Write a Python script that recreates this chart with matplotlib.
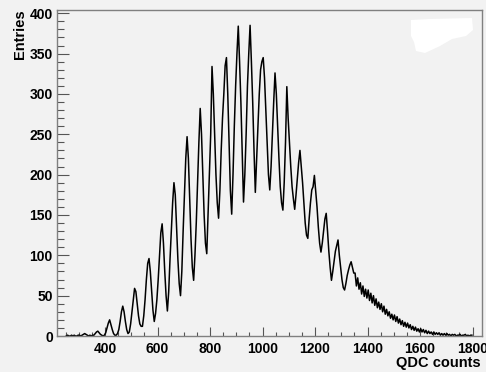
import numpy as np
import matplotlib.pyplot as plt
from matplotlib.patches import Polygon

# QDC spectrum, 5-count bins from 250 to 1800 (one row = 50 counts)
bin_start = 250
bin_width = 5
entries = [
    0, 1, 0, 0, 1, 0, 1, 0, 0, 1,            # 250
    1, 0, 1, 2, 3, 2, 1, 0, 1, 0,            # 300
    1, 1, 3, 5, 6, 4, 2, 1, 0, 1,            # 350
    4, 10, 16, 20, 14, 8, 3, 1, 1, 3,        # 400
    8, 18, 30, 37, 30, 18, 8, 3, 5, 15,      # 450
    30, 45, 59, 55, 40, 25, 15, 12, 12, 25,  # 500
    45, 70, 90, 96, 80, 55, 32, 18, 28, 45,  # 550
    70, 100, 128, 139, 115, 80, 50, 31, 55, 95,      # 600
    130, 165, 190, 175, 135, 95, 65, 50, 80, 130,    # 650
    175, 220, 247, 220, 170, 120, 85, 69, 100, 140,  # 700
    190, 240, 282, 250, 200, 150, 115, 102, 150, 200,  # 750
    250, 334, 300, 250, 200, 165, 146, 180, 230, 270,  # 800
    300, 335, 345, 300, 240, 180, 151, 200, 260, 310,  # 850
    350, 384, 340, 290, 230, 166, 200, 250, 310, 350,  # 900
    385, 340, 290, 230, 178, 220, 260, 300, 330, 340,  # 950
    345, 320, 280, 240, 200, 181, 210, 250, 290, 326,  # 1000
    300, 260, 220, 185, 165, 156, 190, 240, 309, 270,  # 1050
    240, 210, 185, 170, 157, 175, 195, 215, 230, 210,  # 1100
    190, 165, 140, 125, 121, 145, 165, 181, 185, 199,  # 1150
    180, 160, 135, 115, 104, 115, 130, 145, 152, 130,  # 1200
    105, 85, 69, 80, 92, 105, 112, 119, 100, 85,       # 1250
    70, 60, 57, 65, 75, 82, 88, 92, 85, 78,            # 1300
    78, 62, 72, 58, 66, 52, 62, 49, 58, 47,            # 1350
    57, 44, 53, 41, 50, 38, 46, 35, 42, 33,            # 1400
    40, 30, 37, 27, 33, 25, 30, 22, 27, 20,            # 1450
    26, 18, 24, 16, 21, 14, 19, 12, 17, 11,            # 1500
    16, 10, 14, 8, 12, 7, 11, 6, 9, 5,                 # 1550
    9, 5, 8, 4, 7, 3, 6, 3, 5, 2,                      # 1600
    5, 2, 4, 2, 4, 1, 3, 1, 3, 1,                      # 1650
    3, 1, 2, 0, 2, 1, 2, 0, 1, 1,                      # 1700
    2, 0, 1, 1, 2, 0, 1, 0, 1, 1,                      # 1750
]
x_ticks = [400, 600, 800, 1000, 1200, 1400, 1600, 1800]
y_ticks = [0, 50, 100, 150, 200, 250, 300, 350, 400]

centers = bin_start + bin_width * (np.arange(len(entries)) + 0.5)

bg = '#f2f2f2'
fig = plt.figure(figsize=(4.86, 3.72), dpi=100, facecolor=bg)
ax = fig.add_axes([57/486, 1 - 336/372, 425/486, 326/372])
ax.set_facecolor(bg)

ax.plot(centers, entries, color='black', lw=1.1)

ax.set_xlim(217, 1836)
ax.set_ylim(0, 404)
ax.set_xticks(x_ticks)
ax.set_yticks(y_ticks)
ax.set_xticks(np.arange(250, 1836, 50), minor=True)
ax.set_yticks(np.arange(0, 404, 10), minor=True)
ax.tick_params(axis='x', which='major', direction='in', length=6.5, width=0.8, color='#555555', pad=4)
ax.tick_params(axis='x', which='minor', direction='in', length=3.2, width=0.8, color='#555555')
ax.tick_params(axis='y', which='major', direction='in', length=8.6, width=0.8, color='#555555', pad=3)
ax.tick_params(axis='y', which='minor', direction='in', length=5, width=0.8, color='#555555')
for lab in ax.get_xticklabels() + ax.get_yticklabels():
    lab.set_fontfamily('Liberation Sans')
    lab.set_fontweight('bold')
    lab.set_fontsize(10)
for s in ax.spines.values():
    s.set_color('#808080')
    s.set_linewidth(1.0)

# erased stat box (white smudge top right)
blob = [(411, 20), (430, 19), (472, 18), (473, 30), (466, 36), (452, 39),
        (440, 46), (425, 53), (416, 51), (414, 42), (411, 36)]
blob = [((px - 57) / 425, (336 - py) / 326) for px, py in blob]
ax.add_patch(Polygon(blob, closed=True, transform=ax.transAxes, facecolor='white', edgecolor='none'))

fig.text(20/486, 1 - 9/372, 'Entries', rotation=90, ha='center', va='top',
         fontfamily='Liberation Sans', fontweight='bold', fontsize=10.5)
fig.text(481/486, 1 - 363/372, 'QDC counts', ha='right', va='center',
         fontfamily='Liberation Sans', fontweight='bold', fontsize=10.5)

fig.savefig('out.png', dpi=100, facecolor=bg)
